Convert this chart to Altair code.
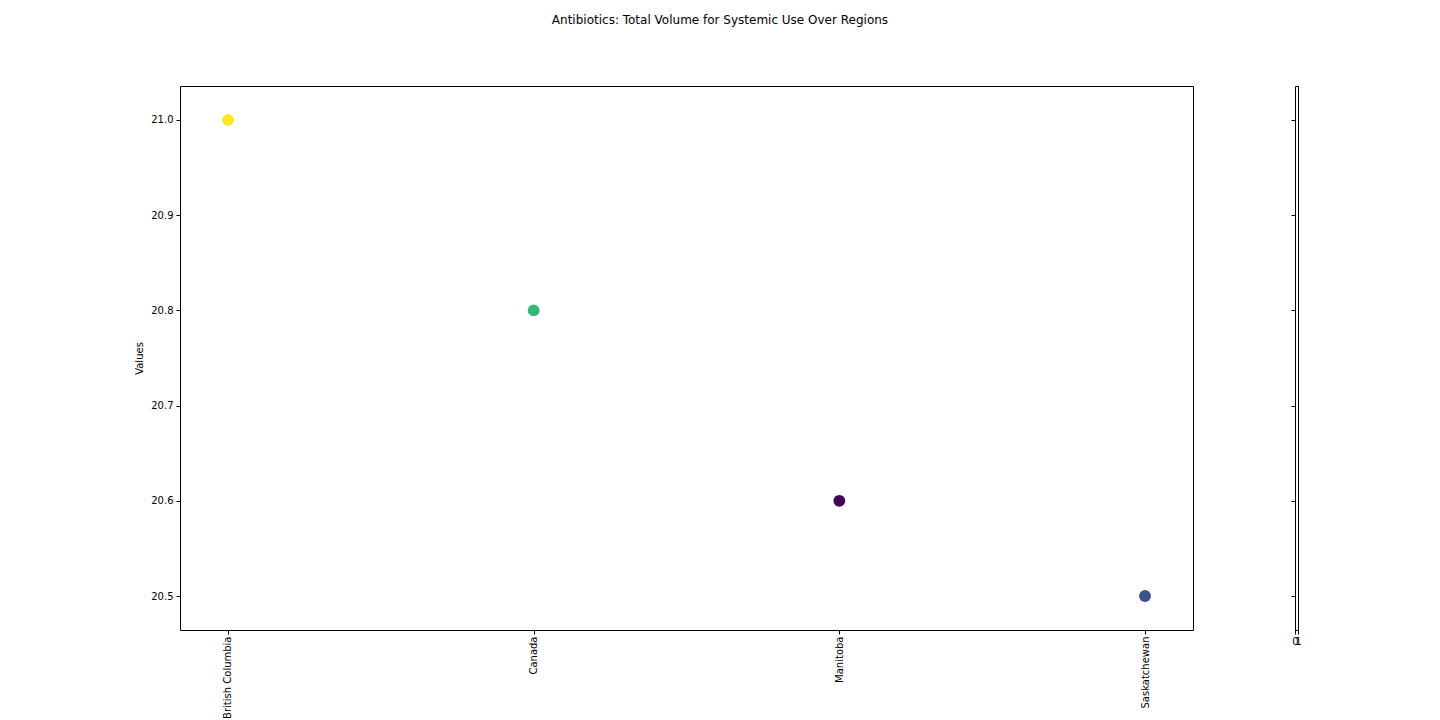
import altair as alt
import pandas as pd

regions = ["British Columbia", "Canada", "Manitoba", "Saskatchewan"]
values = [21.0, 20.8, 20.6, 20.5]
colors = ["#fde725", "#35b779", "#440154", "#3b528b"]
y_ticks = [20.5, 20.6, 20.7, 20.8, 20.9, 21.0]

df = pd.DataFrame({"Region": regions, "Values": values, "Color": colors})

FONT = "DejaVu Sans"
Y_DOMAIN = [20.4643, 21.0357]

main = alt.Chart(df).mark_circle(size=140, opacity=1).encode(
    x=alt.X("Region:N", sort=regions,
            scale=alt.Scale(type="point", padding=0.157),
            axis=alt.Axis(title=None, labelAngle=-90, tickSize=4, grid=False,
                          domain=False, labelFontSize=10, labelColor="black",
                          tickColor="black", labelFont=FONT, labelPadding=2)),
    y=alt.Y("Values:Q", scale=alt.Scale(domain=Y_DOMAIN, nice=False, zero=False),
            axis=alt.Axis(title="Values", values=y_ticks, format=".1f", tickSize=4,
                          grid=False, domain=False, labelFontSize=10, labelColor="black",
                          tickColor="black", labelFont=FONT, titleFont=FONT,
                          titleFontSize=10, titleFontWeight="normal", titleColor="black",
                          labelPadding=3, titlePadding=6)),
    color=alt.Color("Color:N", scale=None),
).properties(width=1013, height=544)

cb_df = pd.DataFrame({"x": [0, 1], "y": [20.5, 21.0]})
colorbar = alt.Chart(cb_df).mark_point(opacity=0).encode(
    x=alt.X("x:Q", scale=alt.Scale(domain=[0, 1], nice=False, zero=False),
            axis=alt.Axis(title=None, values=[0, 1], format="d", tickSize=4, grid=False,
                          domain=False, labelFontSize=10, labelColor="black",
                          tickColor="black", labelFont=FONT, labelFlush=False,
                          labelOverlap=False)),
    y=alt.Y("y:Q", scale=alt.Scale(domain=Y_DOMAIN, nice=False, zero=False),
            axis=alt.Axis(title=None, values=y_ticks, labels=False, tickSize=4,
                          grid=False, domain=False, tickColor="black")),
).properties(width=3, height=544)

chart = alt.hconcat(main, colorbar, spacing=96).properties(
    title=alt.TitleParams("Antibiotics: Total Volume for Systemic Use Over Regions",
                          font=FONT, fontSize=12, fontWeight="normal", color="black",
                          anchor="middle", dx=2, offset=59),
    padding={"left": 126, "top": 5, "right": 5, "bottom": 5},
    background="white",
).configure_view(stroke="black", strokeWidth=1)

chart.save("out.html", embed_options={"renderer": "svg", "actions": False})
